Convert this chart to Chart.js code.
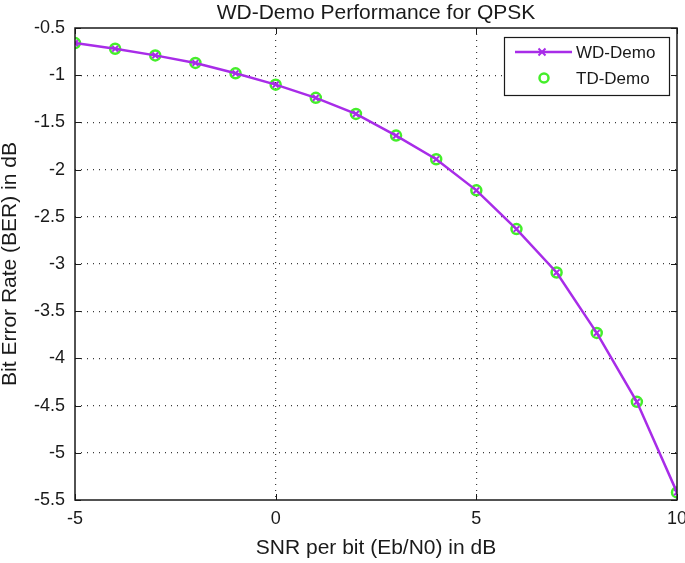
<!DOCTYPE html>
<html>
<head>
<meta charset="utf-8">
<script src="https://cdn.jsdelivr.net/npm/chart.js@4/dist/chart.umd.min.js"></script>
<style>
  html, body { margin: 0; padding: 0; background: #fff; }
  #wrap { width: 685px; height: 563px; }
</style>
</head>
<body>
<div id="wrap"><canvas id="berChart" width="685" height="563"></canvas></div>
<script>
// SNR per bit (dB)
const snrDb = [-5, -4, -3, -2, -1, 0, 1, 2, 3, 4, 5, 6, 7, 8, 9, 10];
// BER in dB
const wdBer = [-0.66, -0.72, -0.79, -0.87, -0.98, -1.10, -1.24, -1.41, -1.64, -1.89, -2.22, -2.63, -3.09, -3.73, -4.46, -5.42];
const tdBer = [-0.66, -0.72, -0.79, -0.87, -0.98, -1.10, -1.24, -1.41, -1.64, -1.89, -2.22, -2.63, -3.09, -3.73, -4.46, -5.42];
const xTicks = [-5, 0, 5, 10];
const yTicks = [-0.5, -1, -1.5, -2, -2.5, -3, -3.5, -4, -4.5, -5, -5.5];
const chartTitle = 'WD-Demo Performance for QPSK';

const PURPLE = '#a82ce8';
const GREEN = '#44ee2a';
const INK = '#1a1a1a';
const FONT = '"Liberation Sans", Arial, sans-serif';

Chart.defaults.font.family = FONT;
Chart.defaults.color = INK;

// title over the plot box, frame, inward ticks and the legend box, like a matlab axes
const axesBox = {
    id: 'axesBox',
    afterDraw(chart) {
        const { ctx, chartArea: a, scales } = chart;
        ctx.save();

        ctx.fillStyle = INK;
        ctx.font = '21px ' + FONT;
        ctx.textAlign = 'center';
        ctx.textBaseline = 'middle';
        ctx.fillText(chartTitle, (a.left + a.right) / 2, 13);

        ctx.strokeStyle = INK;
        ctx.lineWidth = 1;
        ctx.beginPath();
        xTicks.forEach(v => {
            const px = Math.round(scales.x.getPixelForValue(v)) + 0.5;
            ctx.moveTo(px, a.bottom); ctx.lineTo(px, a.bottom - 6);
            ctx.moveTo(px, a.top); ctx.lineTo(px, a.top + 6);
        });
        yTicks.forEach(v => {
            const py = Math.round(scales.y.getPixelForValue(v)) + 0.5;
            ctx.moveTo(a.left, py); ctx.lineTo(a.left + 6, py);
            ctx.moveTo(a.right, py); ctx.lineTo(a.right - 6, py);
        });
        ctx.stroke();
        ctx.lineWidth = 1.5;
        ctx.strokeRect(a.left, a.top, a.right - a.left, a.bottom - a.top);

        // legend
        const lx = 504, ly = 37, lw = 165, lh = 58;
        ctx.fillStyle = '#fff';
        ctx.fillRect(lx, ly, lw, lh);
        ctx.lineWidth = 1.2;
        ctx.strokeRect(lx + 0.5, ly + 0.5, lw, lh);

        ctx.strokeStyle = PURPLE;
        ctx.lineWidth = 2.5;
        ctx.beginPath();
        ctx.moveTo(lx + 11, ly + 15); ctx.lineTo(lx + 68, ly + 15);
        ctx.stroke();
        ctx.lineWidth = 2;
        ctx.beginPath();
        const mx = lx + 38, my = ly + 15;
        ctx.moveTo(mx - 3.5, my - 3.5); ctx.lineTo(mx + 3.5, my + 3.5);
        ctx.moveTo(mx + 3.5, my - 3.5); ctx.lineTo(mx - 3.5, my + 3.5);
        ctx.stroke();

        ctx.strokeStyle = GREEN;
        ctx.lineWidth = 2.5;
        ctx.beginPath();
        ctx.arc(lx + 40, ly + 41, 4.5, 0, Math.PI * 2);
        ctx.stroke();

        ctx.fillStyle = INK;
        ctx.font = '17px ' + FONT;
        ctx.textAlign = 'left';
        ctx.fillText(chart.data.datasets[0].label, lx + 72, ly + 16);
        ctx.fillText(chart.data.datasets[1].label, lx + 72, ly + 42);
        ctx.restore();
    }
};

const gridColor = (ctx) => {
    const t = ctx.tick;
    if (!t) return 'transparent';
    const s = ctx.scale;
    if (t.value === s.min || t.value === s.max) return 'transparent';
    return '#3a3a3a';
};

new Chart(document.getElementById('berChart'), {
    type: 'line',
    data: {
        datasets: [{
            label: 'WD-Demo',
            data: snrDb.map((x, i) => ({ x, y: wdBer[i] })),
            borderColor: PURPLE,
            backgroundColor: PURPLE,
            borderWidth: 2.5,
            pointStyle: 'crossRot',
            pointRadius: 4,
            pointBorderWidth: 2,
            tension: 0,
            fill: false
        }, {
            label: 'TD-Demo',
            data: snrDb.map((x, i) => ({ x, y: tdBer[i] })),
            showLine: false,
            borderColor: GREEN,
            backgroundColor: 'transparent',
            pointStyle: 'circle',
            pointRadius: 5,
            pointBorderWidth: 2.5
        }]
    },
    options: {
        responsive: false,
        animation: false,
        layout: { padding: { left: 0, right: 8, top: 28, bottom: 0 } },
        plugins: {
            legend: { display: false },
            tooltip: { enabled: false },
            title: { display: false }
        },
        scales: {
            x: {
                type: 'linear',
                min: -5,
                max: 10,
                afterBuildTicks: (s) => { s.ticks = xTicks.map(v => ({ value: v })); },
                afterFit: (s) => { s.height = 63; s.paddingRight = 0; s.paddingLeft = 0; },
                grid: { color: gridColor, drawTicks: false, lineWidth: 1.2 },
                border: { display: false, dash: [1, 5] },
                ticks: { padding: 8, font: { size: 18 }, color: INK, callback: (v) => String(v) },
                title: {
                    display: true,
                    text: 'SNR per bit (Eb/N0) in dB',
                    font: { size: 21 },
                    color: INK,
                    padding: { top: 4, bottom: 2 }
                }
            },
            y: {
                type: 'linear',
                min: -5.5,
                max: -0.5,
                afterBuildTicks: (s) => { s.ticks = yTicks.map(v => ({ value: v })); },
                afterFit: (s) => { s.width = 75; s.paddingTop = 0; s.paddingBottom = 0; },
                grid: { color: gridColor, drawTicks: false, lineWidth: 1.2 },
                border: { display: false, dash: [1, 5] },
                ticks: { padding: 10, font: { size: 18 }, color: INK, callback: (v) => String(v) },
                title: {
                    display: true,
                    text: 'Bit Error Rate (BER) in dB',
                    font: { size: 21, lineHeight: 1.0 },
                    color: INK,
                    padding: { top: 0, bottom: 4 }
                }
            }
        }
    },
    plugins: [axesBox]
});
</script>
</body>
</html>
